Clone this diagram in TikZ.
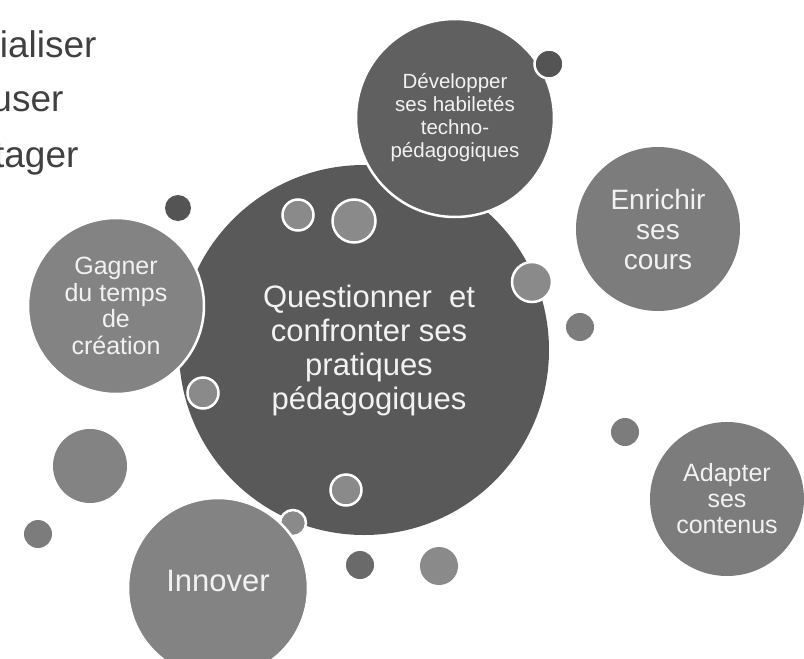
\documentclass[tikz,border=0pt]{standalone}
\usepackage{fontspec}
\setmainfont{Liberation Sans}
\usepackage{xcolor}
\definecolor{bubbledark}{HTML}{595959}
\definecolor{bubbledev}{HTML}{606060}
\definecolor{bubbledeep}{HTML}{545454}
\definecolor{bubblemid}{HTML}{7C7C7C}
\definecolor{bubblelight}{HTML}{8A8A8A}
\definecolor{bubbletext}{HTML}{F2F2F2}
\definecolor{listgray}{HTML}{404040}

\begin{document}
\begin{tikzpicture}[
    x=1pt, y=-1pt,
    bubble/.style={circle, inner sep=0pt, align=center, text=bubbletext,
                   draw=white, line width=2.5pt},
    dot/.style={circle, inner sep=0pt, draw=white, line width=2.5pt},
    plaindot/.style={circle, inner sep=0pt},
    listitem/.style={anchor=base east, text=listgray, font=\fontsize{37}{40}\selectfont},
]
  \clip (0,0) rectangle (804,659);

  % Cut-off list, top left
  \node[listitem] (listone) at (100,57) {cialiser};
  \node[listitem] (listtwo) at (67,111) {user};
  \node[listitem] (listthree) at (82,167) {tager};

  % Central bubble
  \node[bubble, draw=none, fill=bubbledark, minimum size=370pt,
        font=\fontsize{31}{34}\selectfont] (questionner) at (364,350)
        {\hspace*{10pt}Questionner\ \ et\\\hspace*{10pt}confronter ses\\\hspace*{10pt}pratiques\\\hspace*{10pt}pédagogiques};

  % Small rings on the central bubble
  \node[dot, fill=bubblelight, minimum size=31pt] (ringa) at (298,215) {};
  \node[dot, fill=bubblelight, minimum size=43pt] (ringb) at (354,221) {};
  \node[dot, fill=bubblelight, minimum size=40pt] (ringc) at (532,282) {};
  \node[dot, fill=bubblelight, minimum size=31pt] (ringd) at (203,393) {};
  \node[dot, fill=bubblelight, minimum size=31pt] (ringe) at (346,490) {};
  \node[dot, fill=bubblelight, minimum size=26pt] (ringf) at (293,523) {};

  % Surrounding bubbles
  \node[bubble, fill=bubbledev, minimum size=198pt,
        font=\fontsize{20.5}{23}\selectfont] (developper) at (455,118)
        {Développer\\ses habiletés\\techno-\\pédagogiques};
  \node[dot, fill=bubbledeep, minimum size=29pt] (dotdev) at (549,64) {};

  \node[bubble, fill=bubblemid!95!white, minimum size=176pt,
        font=\fontsize{25}{26.5}\selectfont] (gagner) at (116,306)
        {Gagner\\du temps\\de\\création};
  \node[plaindot, fill=bubbledeep, minimum size=26pt] (dotgagner) at (178,208) {};

  \node[bubble, draw=none, fill=bubblemid, minimum size=164pt,
        font=\fontsize{28}{30}\selectfont] (enrichir) at (658,229)
        {Enrichir\\ses\\cours};
  \node[plaindot, fill=bubblemid, minimum size=28pt] (dotenrichir) at (580,327) {};

  \node[plaindot, fill=bubblemid, minimum size=28pt] (dotadapter) at (625,432) {};
  \node[bubble, draw=none, fill=bubblemid, minimum size=154pt,
        font=\fontsize{25}{26}\selectfont] (adapter) at (727,499)
        {Adapter\\ses\\contenus};

  \node[plaindot, fill=bubblemid!95!white, minimum size=74pt] (dotleft) at (90,466) {};
  \node[plaindot, fill=bubblemid, minimum size=28pt] (dotsmall) at (38,534) {};

  \node[bubble, fill=bubblemid!95!white, minimum size=180pt,
        font=\fontsize{31}{34}\selectfont] (innover) at (218,588)
        {\raisebox{14pt}{Innover}};

  \node[plaindot, fill=bubbledark!90!white, minimum size=28pt] (dotbottom) at (360,565) {};
  \node[plaindot, fill=bubblelight, minimum size=38pt] (dotright) at (439,566) {};
\end{tikzpicture}
\end{document}
